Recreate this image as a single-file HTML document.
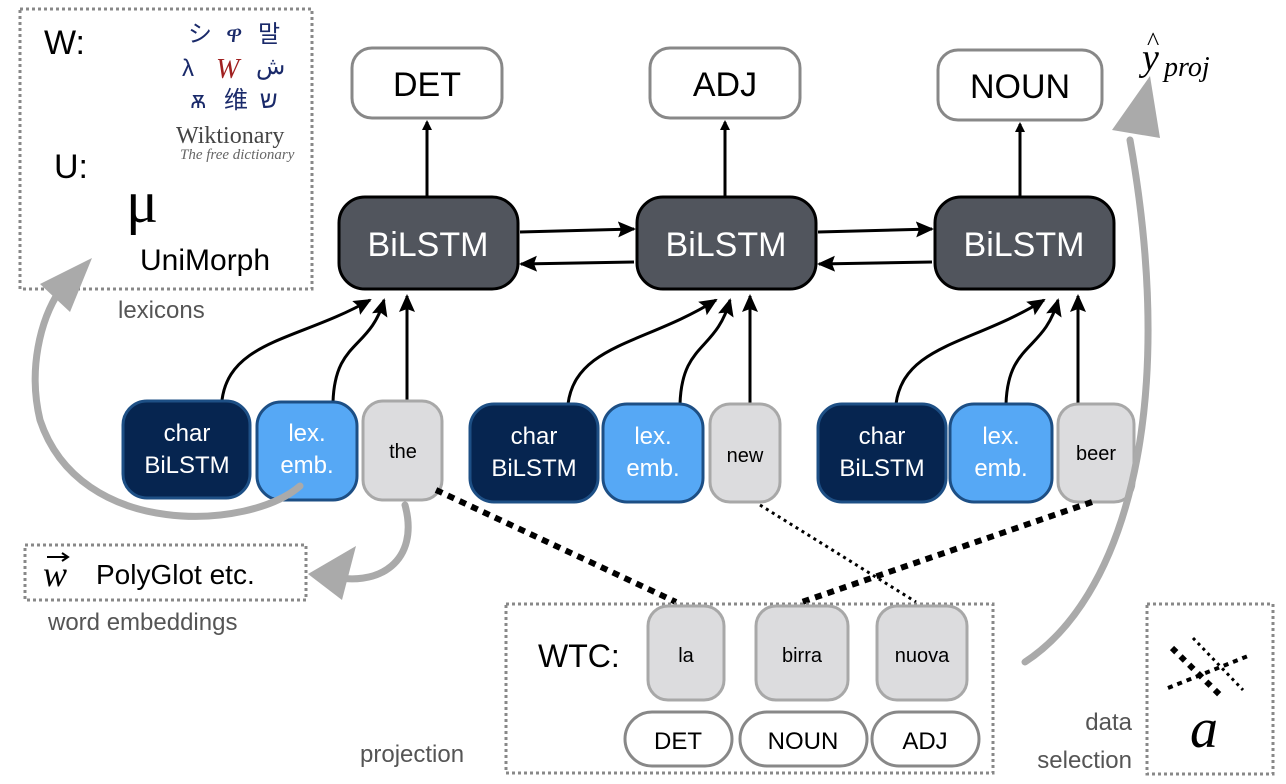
<!DOCTYPE html>
<html><head><meta charset="utf-8"><style>
html,body{margin:0;padding:0;background:#fff;}
svg{display:block;}
text{font-family:"Liberation Sans","Noto Sans CJK SC",sans-serif;}
text.serif{font-family:"Liberation Serif","DejaVu Serif",serif;}
</style></head><body>
<svg width="1286" height="784" viewBox="0 0 1286 784" xmlns="http://www.w3.org/2000/svg">
<defs>
<marker id="ah" markerWidth="10" markerHeight="10" refX="8" refY="5" orient="auto" markerUnits="userSpaceOnUse" viewBox="0 0 10 10">
<path d="M0,0 L10,5 L0,10 z" fill="#000"/>
</marker>
<marker id="ah2" markerWidth="18" markerHeight="16" refX="16" refY="8" orient="auto" markerUnits="userSpaceOnUse" viewBox="0 0 18 16">
<path d="M0,0 L18,8 L0,16 L3,8 z" fill="#000"/>
</marker>
</defs>

<!-- lexicon box -->
<rect x="20" y="9" width="292" height="280" fill="none" stroke="#888" stroke-width="3" stroke-dasharray="3,3"/>
<text x="44" y="54" font-size="34">W:</text>
<text x="54" y="178" font-size="34">U:</text>
<text class="serif" x="126" y="222" font-size="60">μ</text>
<text x="140" y="270" font-size="30">UniMorph</text>
<g font-size="24" fill="#1a2a6a">
<text x="188" y="42">シ</text><text x="226" y="42">ዋ</text><text x="258" y="42">말</text>
<text x="182" y="76">λ</text><text class="serif" x="216" y="78" fill="#a02020" font-style="italic" font-size="28">W</text><text x="256" y="74">ش</text>
<text x="190" y="108">ѫ</text><text x="224" y="108">维</text><text x="260" y="108">ש</text>
</g>
<text class="serif" x="176" y="143" font-size="24" fill="#444">Wiktionary</text>
<text class="serif" x="180" y="159" font-size="15" fill="#666" font-style="italic">The free dictionary</text>
<text x="118" y="318" font-size="24" fill="#555">lexicons</text>

<!-- y hat -->
<text class="serif" x="1142" y="70" font-size="38" font-style="italic">y</text>
<text class="serif" x="1147" y="50" font-size="26">^</text>
<text class="serif" x="1164" y="76" font-size="28" font-style="italic">proj</text>

<!-- output boxes -->
<g fill="#fff" stroke="#888" stroke-width="3">
<rect x="352" y="48" width="150" height="70" rx="20"/>
<rect x="650" y="48" width="150" height="70" rx="20"/>
<rect x="938" y="50" width="164" height="70" rx="20"/>
</g>
<g font-size="34" text-anchor="middle">
<text x="427" y="96">DET</text>
<text x="725" y="96">ADJ</text>
<text x="1020" y="98">NOUN</text>
</g>

<g stroke="#000" stroke-width="3" fill="none" marker-end="url(#ah)">
<line x1="427" y1="196" x2="427" y2="122"/>
<line x1="725" y1="196" x2="725" y2="122"/>
<line x1="1020" y1="196" x2="1020" y2="124"/>
</g>

<g fill="#51555d" stroke="#000" stroke-width="3">
<rect x="339" y="197" width="179" height="92" rx="26"/>
<rect x="637" y="197" width="179" height="92" rx="26"/>
<rect x="935" y="197" width="179" height="92" rx="26"/>
</g>
<g font-size="34" fill="#fff" text-anchor="middle">
<text x="428" y="256">BiLSTM</text>
<text x="726" y="256">BiLSTM</text>
<text x="1024" y="256">BiLSTM</text>
</g>

<g stroke="#000" stroke-width="3" fill="none" marker-end="url(#ah2)">
<line x1="520" y1="232" x2="634" y2="229"/>
<line x1="634" y1="262" x2="521" y2="264"/>
<line x1="818" y1="232" x2="932" y2="229"/>
<line x1="932" y1="262" x2="819" y2="264"/>
</g>

<g stroke="#000" stroke-width="3" fill="none" marker-end="url(#ah2)">
<path d="M222,400 C230,340 300,340 370,300"/>
<path d="M333,402 C335,340 370,350 384,300"/>
<line x1="407" y1="400" x2="407" y2="296"/>
<path d="M568,404 C576,344 646,344 716,300"/>
<path d="M680,404 C682,342 716,352 730,300"/>
<line x1="750" y1="404" x2="750" y2="296"/>
<path d="M896,404 C904,344 974,344 1044,300"/>
<path d="M1006,404 C1008,342 1044,352 1058,300"/>
<line x1="1078" y1="404" x2="1078" y2="296"/>
</g>

<g stroke-width="3">
<rect x="123" y="401" width="127" height="97" rx="24" fill="#062550" stroke="#1d4f85"/>
<rect x="257" y="402" width="100" height="98" rx="24" fill="#56a8f5" stroke="#1d4f85"/>
<rect x="363" y="401" width="79" height="99" rx="20" fill="#dcdcde" stroke="#a8a8a8"/>
<rect x="470" y="404" width="128" height="98" rx="24" fill="#062550" stroke="#1d4f85"/>
<rect x="603" y="404" width="100" height="98" rx="24" fill="#56a8f5" stroke="#1d4f85"/>
<rect x="710" y="404" width="70" height="98" rx="20" fill="#dcdcde" stroke="#a8a8a8"/>
<rect x="818" y="404" width="128" height="98" rx="24" fill="#062550" stroke="#1d4f85"/>
<rect x="950" y="404" width="102" height="98" rx="24" fill="#56a8f5" stroke="#1d4f85"/>
<rect x="1058" y="404" width="76" height="98" rx="20" fill="#dcdcde" stroke="#a8a8a8"/>
</g>
<g font-size="24" fill="#fff" text-anchor="middle">
<text x="187" y="441">char</text><text x="187" y="473">BiLSTM</text>
<text x="307" y="441">lex.</text><text x="307" y="473">emb.</text>
<text x="534" y="444">char</text><text x="534" y="476">BiLSTM</text>
<text x="653" y="444">lex.</text><text x="653" y="476">emb.</text>
<text x="882" y="444">char</text><text x="882" y="476">BiLSTM</text>
<text x="1001" y="444">lex.</text><text x="1001" y="476">emb.</text>
</g>
<g font-size="20" text-anchor="middle">
<text x="403" y="458">the</text>
<text x="745" y="462">new</text>
<text x="1096" y="460">beer</text>
</g>

<line x1="436" y1="490" x2="676" y2="602" stroke="#000" stroke-width="6" stroke-dasharray="7,6"/>
<line x1="760" y1="505" x2="916" y2="602" stroke="#000" stroke-width="3" stroke-dasharray="3,4"/>
<line x1="1092" y1="502" x2="802" y2="602" stroke="#000" stroke-width="6" stroke-dasharray="7,6"/>

<rect x="506" y="604" width="487" height="169" fill="none" stroke="#888" stroke-width="3" stroke-dasharray="3,3"/>
<text x="538" y="667" font-size="32">WTC:</text>
<g fill="#dcdcde" stroke="#a8a8a8" stroke-width="3">
<rect x="648" y="606" width="76" height="94" rx="20"/>
<rect x="756" y="606" width="92" height="94" rx="20"/>
<rect x="877" y="606" width="90" height="94" rx="20"/>
</g>
<g font-size="20" text-anchor="middle">
<text x="686" y="662">la</text><text x="802" y="662">birra</text><text x="922" y="662">nuova</text>
</g>
<g fill="#fff" stroke="#888" stroke-width="3">
<rect x="625" y="712" width="107" height="54" rx="27"/>
<rect x="740" y="712" width="127" height="54" rx="27"/>
<rect x="872" y="712" width="107" height="54" rx="27"/>
</g>
<g font-size="24" text-anchor="middle">
<text x="678" y="749">DET</text><text x="803" y="749">NOUN</text><text x="925" y="749">ADJ</text>
</g>
<text x="360" y="762" font-size="24" fill="#555">projection</text>

<rect x="25" y="545" width="281" height="55" fill="none" stroke="#888" stroke-width="3" stroke-dasharray="3,3"/>
<text class="serif" x="43" y="586" font-size="36" font-style="italic">w</text>
<line x1="47" y1="557" x2="68" y2="557" stroke="#000" stroke-width="2"/>
<path d="M62,553 L68,557 L62,561" fill="none" stroke="#000" stroke-width="2"/>
<text x="96" y="584" font-size="28">PolyGlot etc.</text>
<text x="48" y="630" font-size="24" fill="#555">word embeddings</text>

<rect x="1147" y="604" width="126" height="170" fill="none" stroke="#888" stroke-width="3" stroke-dasharray="3,3"/>
<line x1="1172" y1="648" x2="1220" y2="695" stroke="#000" stroke-width="6" stroke-dasharray="6,6"/>
<line x1="1193" y1="638" x2="1243" y2="690" stroke="#000" stroke-width="3" stroke-dasharray="3,4"/>
<line x1="1168" y1="688" x2="1248" y2="656" stroke="#000" stroke-width="4" stroke-dasharray="5,5"/>
<text class="serif" x="1190" y="747" font-size="56" font-style="italic">a</text>
<text x="1132" y="730" font-size="24" fill="#555" text-anchor="end">data</text>
<text x="1132" y="768" font-size="24" fill="#555" text-anchor="end">selection</text>

<g fill="none" stroke="#aaa" stroke-width="7" stroke-linecap="round">
<path d="M1025,662 C1120,600 1180,420 1130,140"/>
<path d="M300,486 C250,530 80,540 40,420 C28,370 40,320 60,290"/>
<path d="M405,505 C420,560 380,590 325,575"/>
</g>
<g fill="#aaa">
<path d="M1112,130 L1150,76 L1160,138 z"/>
<path d="M40,284 L92,258 L70,312 z"/>
<path d="M308,574 L356,546 L342,600 z"/>
</g>
</svg>
</body></html>
